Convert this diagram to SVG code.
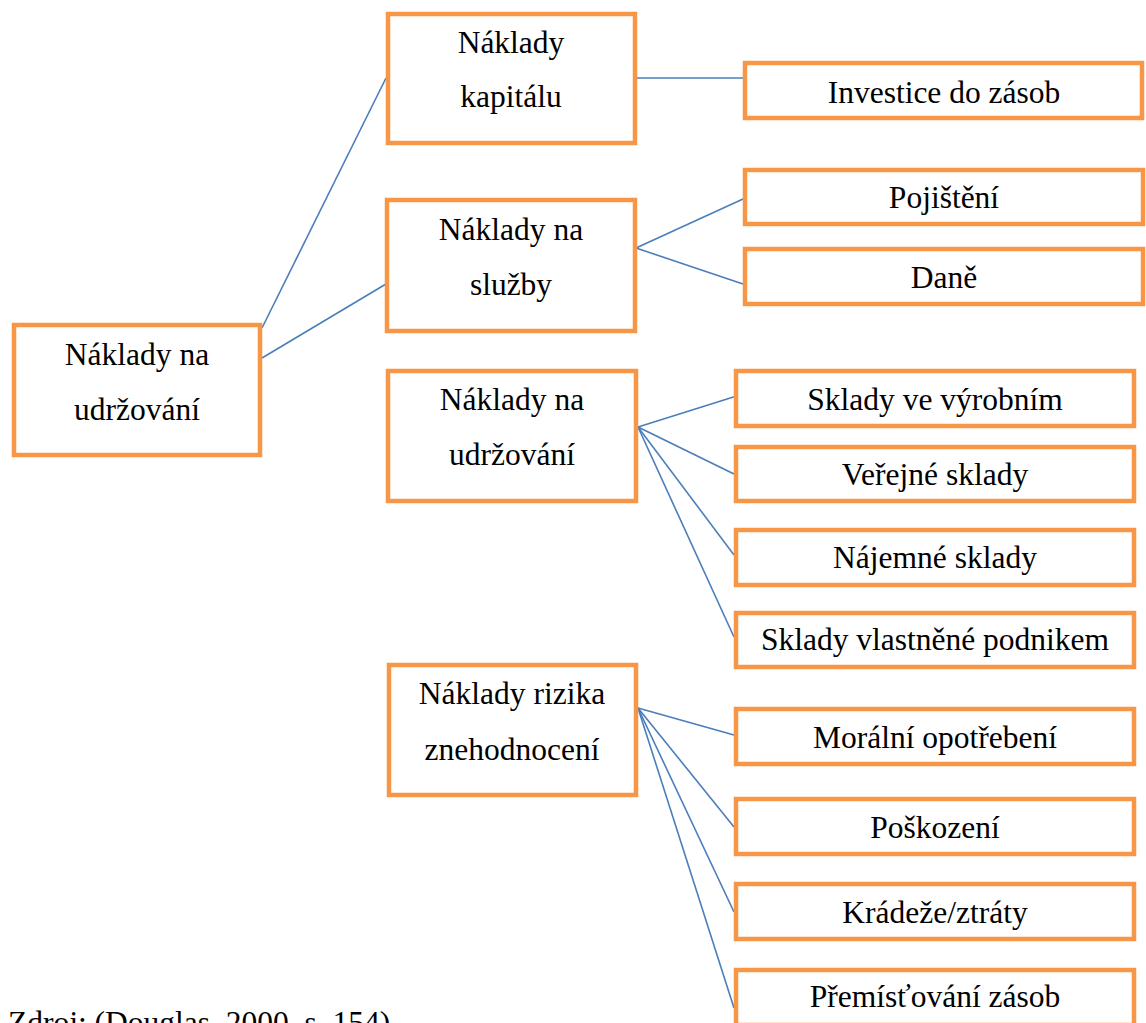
<svg xmlns="http://www.w3.org/2000/svg" width="1146" height="1023" viewBox="0 0 1146 1023">
<style>
.box{fill:#fff;stroke:#F79646;stroke-width:4.5}
.t{font-family:"Liberation Serif","Times New Roman",serif;font-size:31.5px;fill:#000;text-anchor:middle}
.src{font-family:"Liberation Serif","Times New Roman",serif;font-size:31.5px;fill:#000}
.c{stroke:#4A7EBB;stroke-width:1.6;fill:none}
</style>
<rect width="1146" height="1023" fill="#fff"/>
<g id="connectors">
<line class="c" x1="262" y1="328" x2="386" y2="78"/>
<line class="c" x1="262" y1="358" x2="386" y2="284"/>
<line class="c" x1="637" y1="78" x2="743" y2="78"/>
<line class="c" x1="636" y1="248" x2="743" y2="199"/>
<line class="c" x1="636" y1="248" x2="743" y2="284"/>
<line class="c" x1="638" y1="427" x2="743" y2="394"/>
<line class="c" x1="638" y1="427" x2="734" y2="474"/>
<line class="c" x1="638" y1="427" x2="734" y2="555"/>
<line class="c" x1="638" y1="427" x2="734" y2="637"/>
<line class="c" x1="638" y1="708" x2="734" y2="735"/>
<line class="c" x1="638" y1="708" x2="734" y2="827"/>
<line class="c" x1="638" y1="708" x2="734" y2="912"/>
<line class="c" x1="638" y1="708" x2="734" y2="1008"/>
</g>
<g id="root">
<rect class="box" x="14" y="325" width="246" height="130"/>
<text class="t" x="137" y="365">Náklady na</text>
<text class="t" x="137" y="420">udržování</text>
</g>
<g id="kapital">
<rect class="box" x="388" y="14" width="247" height="129"/>
<text class="t" x="511" y="53">Náklady</text>
<text class="t" x="511" y="107">kapitálu</text>
</g>
<g id="sluzby">
<rect class="box" x="387" y="200" width="248" height="131"/>
<text class="t" x="511" y="240">Náklady na</text>
<text class="t" x="511" y="295">služby</text>
</g>
<g id="udrzovani">
<rect class="box" x="388" y="371" width="248" height="130"/>
<text class="t" x="512" y="410">Náklady na</text>
<text class="t" x="512" y="465">udržování</text>
</g>
<g id="rizika">
<rect class="box" x="389" y="665" width="247" height="130"/>
<text class="t" x="512" y="704">Náklady rizika</text>
<text class="t" x="512" y="760">znehodnocení</text>
</g>
<g id="investice">
<rect class="box" x="745" y="63" width="397" height="55"/>
<text class="t" x="944" y="103">Investice do zásob</text>
</g>
<g id="pojisteni">
<rect class="box" x="745" y="170" width="398" height="54"/>
<text class="t" x="944" y="208">Pojištění</text>
</g>
<g id="dane">
<rect class="box" x="745" y="249" width="398" height="55"/>
<text class="t" x="944" y="288">Daně</text>
</g>
<g id="vyrobni">
<rect class="box" x="736" y="371" width="398" height="55"/>
<text class="t" x="935" y="410">Sklady ve výrobním</text>
</g>
<g id="verejne">
<rect class="box" x="736" y="447" width="398" height="54"/>
<text class="t" x="935" y="485">Veřejné sklady</text>
</g>
<g id="najemne">
<rect class="box" x="736" y="530" width="398" height="55"/>
<text class="t" x="935" y="568">Nájemné sklady</text>
</g>
<g id="vlastnene">
<rect class="box" x="736" y="613" width="398" height="54"/>
<text class="t" x="935" y="650">Sklady vlastněné podnikem</text>
</g>
<g id="moralni">
<rect class="box" x="736" y="709" width="398" height="55"/>
<text class="t" x="935" y="748">Morální opotřebení</text>
</g>
<g id="poskozeni">
<rect class="box" x="736" y="799" width="398" height="55"/>
<text class="t" x="935" y="838">Poškození</text>
</g>
<g id="kradeze">
<rect class="box" x="736" y="884" width="398" height="55"/>
<text class="t" x="935" y="923">Krádeže/ztráty</text>
</g>
<g id="premistovani">
<rect class="box" x="736" y="970" width="398" height="55"/>
<text class="t" x="935" y="1007">Přemísťování zásob</text>
</g>
<text class="src" x="8" y="1033">Zdroj: (Douglas, 2000, s. 154)</text>
</svg>
